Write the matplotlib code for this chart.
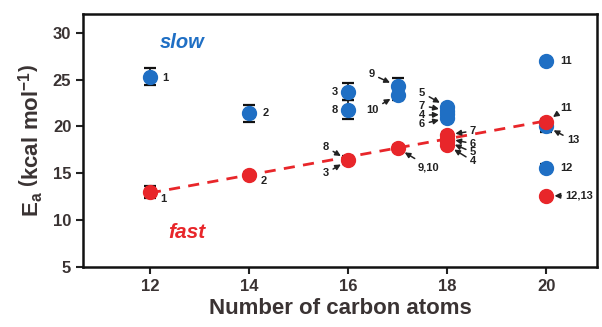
import numpy as np
import matplotlib
matplotlib.use("Agg")
import matplotlib.pyplot as plt

plt.rcParams["font.family"] = ["Liberation Sans", "DejaVu Sans"]
plt.rcParams["mathtext.fontset"] = "custom"
plt.rcParams["mathtext.rm"] = "Liberation Sans:bold"
plt.rcParams["mathtext.bf"] = "Liberation Sans:bold"
plt.rcParams["mathtext.it"] = "Liberation Sans:bold"

# slow (blue) series
slow_x   = [12,   14,   16,   16,   17,   17,   18,   18,   18,   18,   20,   20,   20]
slow_y   = [25.3, 21.4, 23.7, 21.8, 24.3, 23.4, 22.1, 21.7, 21.3, 20.9, 27.0, 20.0, 15.6]
slow_err = [0.9,  0.9,  0.9,  1.0,  0.9,  0.6,  0.3,  0.3,  0.3,  0.3,  0.2,  0.6,  0.4]
slow_lab = ["1", "2", "3", "8", "9", "10", "5", "7", "4", "6", "11", "13", "12"]

# fast (red) series
fast_x   = [12,   14,   16,   17,   18,   18,   18,   18,   20,   20]
fast_y   = [13.0, 14.8, 16.4, 17.7, 19.1, 18.7, 18.4, 18.0, 20.5, 12.6]
fast_err = [0.6,  0.3,  0.4,  0.3,  0.3,  0.3,  0.3,  0.3,  0.3,  0.2]
fast_lab = ["1", "2", "8,3", "9,10", "7", "6", "5", "4", "11", "12,13"]

# dashed trend through the fast series
trend_x = [12, 20]
trend_y = [12.9, 20.6]

xticks = [12, 14, 16, 18, 20]
yticks = [5, 10, 15, 20, 25, 30]

BLUE = "#1f6fc4"
RED = "#e8262a"
DARK = "#3a3333"

fig = plt.figure(figsize=(6.02, 3.27), dpi=100)
ax = fig.add_axes([0.138, 0.1835, 0.854, 0.7735])

ax.plot(trend_x, trend_y, ls=(0, (4, 3)), color=RED, lw=2, zorder=1)

ax.errorbar(slow_x, slow_y, yerr=slow_err, fmt="none", ecolor="#111111",
            elinewidth=1.2, capsize=4, capthick=1.6, zorder=2)
ax.errorbar(fast_x, fast_y, yerr=fast_err, fmt="none", ecolor="#111111",
            elinewidth=1.2, capsize=4, capthick=1.6, zorder=2)
ax.plot(slow_x, slow_y, "o", ms=10, color=BLUE, mec=BLUE, zorder=3)
ax.plot(fast_x, fast_y, "o", ms=10, color=RED, mec=RED, zorder=3)

ax.set_xlim(10.65, 21.03)
ax.set_ylim(5, 32)
ax.set_xticks(xticks)
ax.set_yticks(yticks)
for lab in ax.get_xticklabels() + ax.get_yticklabels():
    lab.set_fontweight("bold")
ax.tick_params(axis="both", labelsize=12, width=1.5, length=5,
               colors="#222222", labelcolor=DARK)
for sp in ax.spines.values():
    sp.set_linewidth(1.8)
    sp.set_color("#111111")

ax.set_xlabel("Number of carbon atoms", fontsize=16, fontweight="bold",
              color=DARK, labelpad=3)
ax.set_ylabel(r"E$_\mathregular{a}$ $\left(\mathregular{kcal\ mol^{-1}}\right)$",
              fontsize=16, fontweight="bold", color=DARK, labelpad=5)

ax.text(12.65, 29.0, "slow", color=BLUE, fontsize=14.5, fontweight="bold",
        style="italic", ha="center", va="center")
ax.text(12.75, 8.7, "fast", color=RED, fontsize=15, fontweight="bold",
        style="italic", ha="center", va="center")

# label offsets in pixels (dx, dy, arrow)
slow_off = [(15, -1, False), (17, 0, False), (-13, 0, False), (-13, 0, False),
            (-26, 12, True), (-25, -15, True), (-25, 14, True), (-25, 5, True),
            (-25, -1, True), (-25, -6, True), (20, 0, False), (27, -14, True),
            (20, 0, False)]
fast_off = [(13, -7, False), (15, -6, False), None, (31, -19, True),
            (26, 4, True), (26, -5, True), (26, -11, True), (26, -16, True),
            (20, 14, True), (33, 0, True)]

arrow = dict(arrowstyle="-|>", color="#222222", lw=1.1, shrinkA=1, shrinkB=6,
             mutation_scale=8)


def put(lab, x, y, dx, dy, has_arrow):
    ax.annotate(lab, xy=(x, y), xytext=(dx, dy), textcoords="offset pixels",
                fontsize=8, fontweight="bold", color="#222222",
                ha="center", va="center",
                arrowprops=arrow if has_arrow else None, zorder=4)


for lab, x, y, off in zip(slow_lab, slow_x, slow_y, slow_off):
    put(lab, x, y, *off)

for lab, x, y, off in zip(fast_lab, fast_x, fast_y, fast_off):
    if off is None:
        a, b = lab.split(",")
        put(a, x, y, -22, 13, True)
        put(b, x, y, -22, -13, True)
    else:
        put(lab, x, y, *off)

fig.savefig("out.png", dpi=100)
